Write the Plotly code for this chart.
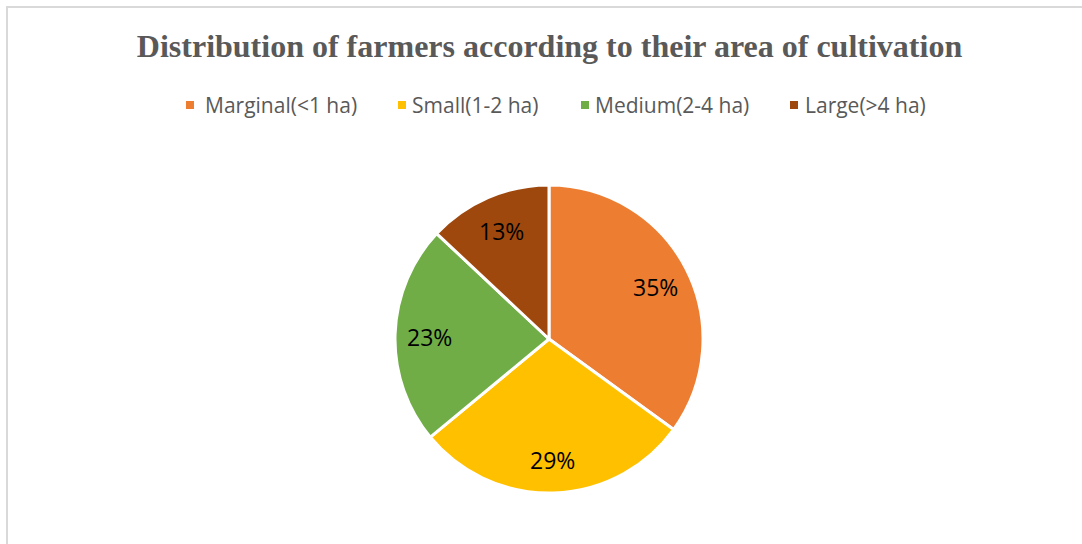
import math
import plotly.graph_objects as go

# Farm-size categories and their share of farmers (%)
categories = ["Marginal(<1 ha)", "Small(1-2 ha)", "Medium(2-4 ha)", "Large(>4 ha)"]
shares = [35, 29, 23, 13]
colors = ["#ED7D31", "#FFC000", "#70AD47", "#9E480E"]
title_text = "Distribution of farmers according to their area of cultivation"

W, H = 1082, 544

# Pie geometry (pixels)
CX, CY, R = 549, 339, 154
LABEL_R = 0.775 * R
LABEL_DY = 2  # small downward nudge so digits sit optically centred

# Legend layout (pixels): swatch left edges and text starts
legend_y = 105
swatch_x = [186, 398, 581, 790]
text_x = [203, 410, 593, 803]
SW = 8


def px(x):
    return x / W


def py(y):
    return 1 - y / H


fig = go.Figure()

fig.add_trace(go.Pie(
    labels=categories,
    values=shares,
    sort=False,
    direction="clockwise",
    rotation=0,
    marker=dict(colors=colors, line=dict(color="white", width=3)),
    textinfo="none",
    hoverinfo="label+percent",
    showlegend=False,
    domain=dict(x=[px(CX - R), px(CX + R)], y=[py(CY + R), py(CY - R)]),
))

annotations = []
shapes = []

# Percentage labels placed along each slice's mid-angle
total = sum(shares)
cum = 0
for v in shares:
    mid = (cum + v / 2) / total * 2 * math.pi
    cum += v
    lx = CX + LABEL_R * math.sin(mid)
    ly = CY - LABEL_R * math.cos(mid) + LABEL_DY
    annotations.append(dict(
        x=px(lx), y=py(ly), xref="paper", yref="paper",
        text=f"{v}%", showarrow=False, xanchor="center", yanchor="middle",
        font=dict(family="Open Sans", size=23, color="black"),
    ))

# Legend: square swatches with category names
for name, col, sx, tx in zip(categories, colors, swatch_x, text_x):
    shapes.append(dict(
        type="rect", xref="paper", yref="paper",
        x0=px(sx), x1=px(sx + SW), y0=py(legend_y + SW / 2), y1=py(legend_y - SW / 2),
        fillcolor=col, line=dict(width=0),
    ))
    annotations.append(dict(
        x=px(tx), y=py(legend_y), xref="paper", yref="paper",
        text=name, showarrow=False, xanchor="left", yanchor="middle",
        font=dict(family="Open Sans", size=21, color="#595959"),
    ))

# Chart-area border (left and top edges)
shapes += [
    dict(type="line", xref="paper", yref="paper",
         x0=px(7), x1=px(7), y0=0, y1=py(6),
         line=dict(color="#D9D9D9", width=2)),
    dict(type="line", xref="paper", yref="paper",
         x0=px(6), x1=1, y0=py(7), y1=py(7),
         line=dict(color="#D9D9D9", width=2)),
]

fig.update_layout(
    width=W, height=H,
    margin=dict(l=0, r=0, t=0, b=0),
    paper_bgcolor="white",
    plot_bgcolor="white",
    showlegend=False,
    title=dict(
        text="<b>" + title_text + "</b>",
        x=px(549.5), xanchor="center",
        y=py(46), yanchor="middle", yref="container",
        font=dict(family="Liberation Serif", size=32, color="#595959"),
    ),
    annotations=annotations,
    shapes=shapes,
)

fig.write_html("out.html")
